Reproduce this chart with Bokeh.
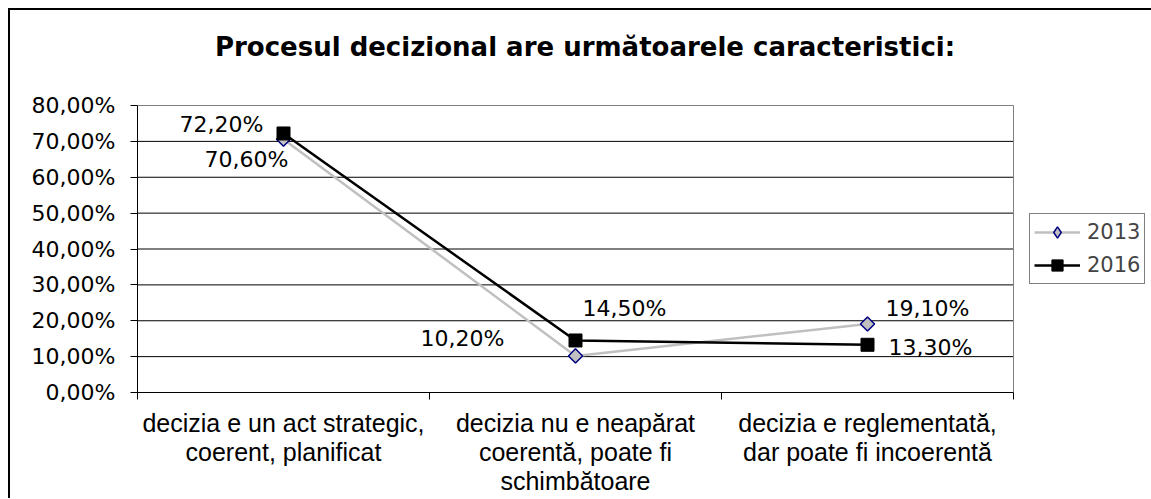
import math
from bokeh.plotting import figure
from bokeh.models import Range1d, FixedTicker, Legend, LegendItem, Label
from bokeh.core.properties import value
from bokeh.embed import file_html
from bokeh.resources import INLINE

# ---------------- data ----------------
title_text = "Procesul decizional are următoarele caracteristici:"
categories = [
    "decizia e un act strategic,\ncoerent, planificat",
    "decizia nu e neapărat\ncoerentă, poate fi\nschimbătoare",
    "decizia e reglementată,\ndar poate fi incoerentă",
]
series_names = ["2013", "2016"]
values_2013 = [70.6, 10.2, 19.1]
values_2016 = [72.2, 14.5, 13.3]
y_ticks = [0, 10, 20, 30, 40, 50, 60, 70, 80]
y_tick_labels = ["0,00%", "10,00%", "20,00%", "30,00%", "40,00%",
                 "50,00%", "60,00%", "70,00%", "80,00%"]

# ---------------- layout / style ----------------
FONT = "DejaVu Sans"
PLOT_W, PLOT_H = 876, 287        # pixel size of the plotting area (0..3 x 0..80%)
FRAME_W, FRAME_H = 1014, 382     # frame also holds title and legend
n = len(categories)
x_pos = [i + 0.5 for i in range(n)]
bounds = list(range(n + 1))
y_max = y_ticks[-1]

p = figure(frame_width=FRAME_W, frame_height=FRAME_H,
           x_range=Range1d(0, n * FRAME_W / PLOT_W),
           y_range=Range1d(0, y_max * FRAME_H / PLOT_H),
           output_backend="svg", toolbar_location=None,
           min_border_left=127, min_border_right=0,
           min_border_top=0, min_border_bottom=0)
p.styles = {"margin-left": "8px", "margin-top": "8px",
            "border-left": "2px solid black", "border-top": "2px solid black"}
p.background_fill_color = "white"
p.border_fill_color = "white"
p.outline_line_color = None

# y axis
p.yaxis.ticker = FixedTicker(ticks=y_ticks)
p.yaxis.bounds = (y_ticks[0], y_max)
p.yaxis.major_label_overrides = dict(zip(y_ticks, y_tick_labels))
p.yaxis.major_tick_out = 7
p.yaxis.major_tick_in = 0
p.yaxis.minor_tick_out = 0
p.yaxis.minor_tick_in = 0
p.yaxis.axis_line_color = "black"
p.yaxis.major_tick_line_color = "black"
p.yaxis.major_label_standoff = 15
p.yaxis.major_label_text_font = FONT
p.yaxis.major_label_text_font_size = "22px"
p.yaxis.major_label_text_color = "black"

# x axis
p.xaxis.ticker = FixedTicker(ticks=x_pos, minor_ticks=bounds)
p.xaxis.bounds = (0, n)
p.xaxis.major_label_overrides = dict(zip(x_pos, categories))
p.xaxis.major_tick_out = 0
p.xaxis.major_tick_in = 0
p.xaxis.minor_tick_out = 7
p.xaxis.minor_tick_in = 0
p.xaxis.minor_tick_line_color = "black"
p.xaxis.axis_line_color = "black"
p.xaxis.major_label_standoff = 9
p.xaxis.major_label_text_font = "Liberation Sans"
p.xaxis.major_label_text_font_size = "25px"
p.xaxis.major_label_text_line_height = 1.05
p.xaxis.major_label_text_color = "black"
p.xaxis.major_label_orientation = "horizontal"

# grid drawn only over the plotting area
p.xgrid.visible = False
p.ygrid.visible = False
inner = y_ticks[1:-1]
p.segment(x0=[0] * len(inner), x1=[n] * len(inner), y0=inner, y1=inner,
          line_color="black", line_width=1)
p.segment(x0=[0, n], x1=[n, n], y0=[y_max, 0], y1=[y_max, y_max],
          line_color="#808080", line_width=1)

# series
l13 = p.line(x_pos, values_2013, line_color="#c0c0c0", line_width=2.5)
# diamond used for the legend symbol (hidden under the rotated squares in the plot)
d13 = p.scatter(x_pos, values_2013, marker="diamond", size=9,
                fill_color="#c0c0c0", line_color="#000080", line_width=1.5)
s13 = p.scatter(x_pos, values_2013, marker="square", angle=math.pi / 4, size=10,
                fill_color="#c0c0c0", line_color="#000080", line_width=1.5)
l16 = p.line(x_pos, values_2016, line_color="black", line_width=2.5)
s16 = p.scatter(x_pos, values_2016, marker="square", size=13,
                fill_color="black", line_color="black")

# data labels (placement style per point)
def fmt(v):
    return ("%.2f" % v).replace(".", ",") + "%"

label_style = {
    ("2013", 0): ("right", 5, 20),
    ("2013", 1): ("right", -71, -17),
    ("2013", 2): ("left", 18, -15),
    ("2016", 0): ("right", -20, -9),
    ("2016", 1): ("left", 7, -32),
    ("2016", 2): ("left", 21, 3),
}
for name, vals in zip(series_names, [values_2013, values_2016]):
    for i, v in enumerate(vals):
        align, dx, dy = label_style[(name, i)]
        p.text(x=[x_pos[i]], y=[v], text=[fmt(v)], text_align=align,
               text_baseline="middle", x_offset=dx, y_offset=dy,
               text_font=value(FONT), text_font_size="22px", text_color="black")

# title
p.add_layout(Label(x=447.5, y=346, x_units="screen", y_units="screen",
                   text=title_text, text_align="center", text_baseline="alphabetic",
                   text_font=FONT, text_font_size="26px", text_font_style="bold",
                   text_color="black"))

# legend, just right of the plotting area
legend = Legend(items=[LegendItem(label=series_names[0], renderers=[l13, d13]),
                       LegendItem(label=series_names[1], renderers=[l16, s16])],
                location=(PLOT_W + 16, 108), margin=0, padding=4, spacing=5,
                glyph_width=46, glyph_height=28, label_height=20, label_standoff=7,
                label_text_font=FONT, label_text_font_size="21px",
                border_line_color="black", border_line_width=1)
p.add_layout(legend, "center")

open("out.html", "w").write(file_html(p, INLINE))
